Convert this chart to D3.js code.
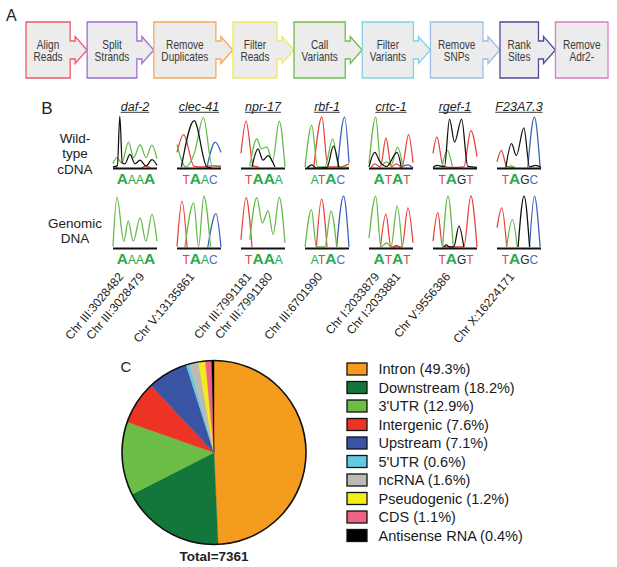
<!DOCTYPE html>
<html>
<head>
<meta charset="utf-8">
<script src="https://cdn.jsdelivr.net/npm/d3@7"></script>
<style>
  body { margin: 0; background: #fff; }
  svg { display: block; font-family: "Liberation Sans", Arial, Helvetica, sans-serif; }
</style>
</head>
<body>
<div id="chart"></div>
<script>
// ---- panel A : pipeline ----
var steps = [["Align", "Reads"], ["Split", "Strands"], ["Remove", "Duplicates"], ["Filter", "Reads"],
             ["Call", "Variants"], ["Filter", "Variants"], ["Remove", "SNPs"], ["Rank", "Sites"], ["Remove", "Adr2-"]];
var stepColors = ["#ef5b66", "#9f6fcf", "#f4aa5a", "#eeea66", "#6cbf4c", "#7fd3e6", "#9dbde6", "#4d4c9c", "#d77cc9"];

// ---- panel B : chromatograms ----
var genes = ["daf-2", "clec-41", "npr-17", "rbf-1", "crtc-1", "rgef-1", "F23A7.3"];
var calls = ["AAAA", "TAAC", "TAAA", "ATAC", "ATAT", "TAGT", "TAGC"];
var bigCalls = ["1001", "0100", "0110", "0010", "1010", "0100", "0100"];
var chrLabels = [["Chr III:3028482", "Chr III:3028479"], ["Chr V:13135861"], ["Chr III:7991181", "Chr III:7991180"],
                 ["Chr III:6701990"], ["Chr I:2033879", "Chr I:2033881"], ["Chr V:9556386"], ["Chr X:16224171"]];

// trace points per gene: [position across the 4 bases (0..1), relative signal (0..1)]
var cdnaTraces = [
  { A: [[0,0.08],[0.08,0.2],[0.2,0.1],[0.35,0.5],[0.47,0.2],[0.615,0.45],[0.75,0.2],[0.885,0.44],[1,0.18]],
    G: [[0,0.02],[0.1,0.05],[0.155,1.0],[0.21,0.1],[0.27,0.08],[0.385,0.26],[0.5,0.08],[0.615,0.15],[0.75,0.04],[0.885,0.16],[1,0.05]],
    T: [[0.65,0],[0.76,0.04],[0.85,0]],
    C: [[0,0.01],[0.05,0.03],[0.1,0]] },
  { T: [[0,0.3],[0.15,0.64],[0.39,0.03],[0.6,0.02],[0.75,0.04],[1,0.02]],
    G: [[0.1,0.02],[0.39,0.91],[0.68,0.02],[0.8,0]],
    A: [[0,0.45],[0.2,0.02],[0.4,0.3],[0.6,0.97],[0.8,0.04],[1,0.04]],
    C: [[0.68,0.01],[0.87,0.5],[1,0.3]] },
  { T: [[0,0.28],[0.115,0.9],[0.28,0.04],[0.4,0.02]],
    G: [[0.25,0.02],[0.385,0.37],[0.5,0.15],[0.615,0.24],[0.77,0.02]],
    A: [[0.2,0.03],[0.36,0.56],[0.46,0.37],[0.59,0.4],[0.715,0.12],[0.87,0.9],[1,0.02]] },
  { A: [[0,0.02],[0.154,0.82],[0.285,0.02],[0.45,0.02],[0.63,0.56],[0.77,0.02],[1,0.01]],
    T: [[0.2,0.01],[0.385,0.98],[0.52,0.02],[0.8,0.02],[0.92,0.05],[1,0.08]],
    G: [[0.05,0],[0.154,0.06],[0.25,0],[0.5,0.01],[0.646,0.42],[0.77,0.01]],
    C: [[0.74,0.01],[0.9,0.98],[1,0.1]] },
  { A: [[0,0.08],[0.154,0.98],[0.27,0.05],[0.4,0.12],[0.5,0.05],[0.65,0.4],[0.77,0.03]],
    G: [[0,0.02],[0.13,0.3],[0.25,0.12],[0.4,0.03],[0.638,0.3],[0.73,0.03]],
    T: [[0.05,0.01],[0.13,0.08],[0.26,0.02],[0.385,0.58],[0.51,0.02],[0.62,0.08],[0.75,0.02],[0.9,0.64],[1,0.1]],
    C: [[0.7,0],[0.88,0.06],[1,0]] },
  { T: [[0,0.28],[0.09,0.6],[0.23,0.04],[0.4,0.01],[0.7,0.02],[0.86,0.72],[1,0.22]],
    A: [[0.2,0.01],[0.325,0.34],[0.44,0.03]],
    G: [[0,0.01],[0.09,0.05],[0.26,0.02],[0.375,0.94],[0.49,0.5],[0.65,0.94],[0.79,0.03],[1,0.01]] },
  { T: [[0,0.12],[0.1,0.34],[0.22,0.03],[0.4,0.01]],
    G: [[0.2,0.01],[0.33,0.47],[0.44,0.24],[0.61,0.77],[0.74,0.02],[0.88,0.05],[1,0.01]],
    A: [[0.25,0.01],[0.32,0.04],[0.4,0.01]],
    C: [[0.7,0.01],[0.85,0.98],[0.98,0.02]] }
];
var gdnaTraces = [
  { A: [[0,0.03],[0.09,0.98],[0.246,0.13],[0.346,0.52],[0.46,0.13],[0.615,0.58],[0.75,0.13],[0.885,0.65],[1,0.13]] },
  { T: [[0,0.03],[0.114,0.9],[0.23,0.01]],
    A: [[0.18,0.01],[0.38,0.87],[0.49,0.03],[0.61,1.0],[0.76,0.02]],
    C: [[0.7,0.01],[0.886,0.66],[1,0.02]] },
  { T: [[0,0.16],[0.115,0.97],[0.25,0.02]],
    A: [[0.2,0.16],[0.36,0.97],[0.485,0.48],[0.615,0.72],[0.73,0.26],[0.87,0.98],[1,0.1]] },
  { A: [[0,0.02],[0.146,0.74],[0.26,0.02],[0.45,0.02],[0.592,0.71],[0.72,0.02]],
    T: [[0.26,0.02],[0.377,0.94],[0.5,0.02]],
    C: [[0.72,0.02],[0.877,1.0],[1,0.02]] },
  { A: [[0,0.19],[0.154,1.0],[0.27,0.02],[0.4,0.1],[0.5,0.02],[0.64,0.81],[0.75,0.02]],
    T: [[0.26,0.02],[0.385,0.65],[0.5,0.02],[0.75,0.02],[0.885,0.77],[1,0.1]],
    C: [[0.55,0.01],[0.62,0.05],[0.7,0.01]] },
  { T: [[0,0.13],[0.108,0.68],[0.22,0.02],[0.7,0.02],[0.86,1.0],[1,0.02]],
    A: [[0.22,0.02],[0.34,1.0],[0.46,0.02]],
    G: [[0.25,0.02],[0.3,0.06],[0.38,0.02],[0.47,0.02],[0.59,0.42],[0.7,0.02]] },
  { T: [[0,0.39],[0.11,0.77],[0.22,0.02]],
    A: [[0.22,0.02],[0.35,0.55],[0.46,0.02]],
    G: [[0.48,0.02],[0.615,1.0],[0.74,0.02]],
    C: [[0.74,0.02],[0.85,1.0],[0.98,0.02]] }
];
var traceColors = { A: "#62b946", T: "#e8403a", C: "#3e60b8", G: "#111111" };
var callColors = { A: "#2aa84a", T: "#e8403a", C: "#4a6cc0", G: "#222222" };

// ---- panel C : pie ----
var regions = ["Intron", "Downstream", "3'UTR", "Intergenic", "Upstream", "5'UTR", "ncRNA", "Pseudogenic", "CDS", "Antisense RNA"];
var regionPct = [49.3, 18.2, 12.9, 7.6, 7.1, 0.6, 1.6, 1.2, 1.1, 0.4];
var regionColors = ["#f59c1f", "#13763b", "#6cbd45", "#ec3324", "#3a54a5", "#63c8e0", "#bdb9b3", "#f3ec19", "#ef6480", "#000000"];
var total = 7361;

var width = 617, height = 567;
var svg = d3.select("#chart").append("svg")
    .attr("width", width)
    .attr("height", height);

// ================= A =================
svg.append("text").attr("x", 6).attr("y", 21).attr("font-size", 16).attr("fill", "#222").text("A");

var boxTop = 22, boxBottom = 78, boxMid = 50;
var squeeze = 0.84;   // box text is condensed
var measure = svg.append("text").attr("font-size", 12);
var boxW = steps.map(function(s) {
    return d3.max(s, function(t) { measure.text(t); return measure.node().getComputedTextLength(); }) * squeeze + 15;
});
measure.remove();
var gap = (608 - 26 - d3.sum(boxW)) / (steps.length - 1);
var boxX = [], cur = 26;
boxW.forEach(function(w) { boxX.push(cur); cur += w + gap; });

function boxPath(i) {
    var l = boxX[i], r = l + boxW[i];
    var p = d3.path();
    p.moveTo(l, boxTop);
    p.lineTo(r, boxTop);
    if (i < steps.length - 1) {
        var tip = boxX[i + 1];
        p.lineTo(r, boxMid - 9);
        p.lineTo(r + 5, boxMid - 9);
        p.lineTo(r + 5, boxMid - 13.5);
        p.lineTo(tip, boxMid);
        p.lineTo(r + 5, boxMid + 13.5);
        p.lineTo(r + 5, boxMid + 9);
        p.lineTo(r, boxMid + 9);
    }
    p.lineTo(r, boxBottom);
    p.lineTo(l, boxBottom);
    p.closePath();
    return p.toString();
}

var stepG = svg.append("g").selectAll("g")
    .data(steps)
    .enter()
    .append("g");

stepG.append("path")
    .attr("d", function(d, i) { return boxPath(i); })
    .attr("fill", "#ececec")
    .attr("stroke", function(d, i) { return stepColors[i]; })
    .attr("stroke-width", 1.3)
    .attr("stroke-linejoin", "miter");

stepG.each(function(d, i) {
    var cx = boxX[i] + boxW[i] / 2;
    d.forEach(function(t, k) {
        d3.select(this).append("g")
            .attr("transform", "translate(" + cx + "," + (48.5 + k * 12.8) + ") scale(" + squeeze + ",1)")
            .append("text")
            .attr("text-anchor", "middle")
            .attr("font-size", 12)
            .attr("fill", "#3a3a3a")
            .text(t);
    }, this);
});

// ================= B =================
svg.append("text").attr("x", 47).attr("y", 114).attr("text-anchor", "middle")
    .attr("font-size", 17).attr("fill", "#222").text("B");

[["Wild-", 142.5], ["type", 158], ["cDNA", 173.5], ["Genomic", 228], ["DNA", 243]].forEach(function(r) {
    svg.append("text").attr("x", 75).attr("y", r[1]).attr("text-anchor", "middle")
        .attr("font-size", 13.5).attr("fill", "#222").text(r[0]);
});

var geneX = d3.scalePoint().domain(genes).range([135, 519]);
var panelHalf = 22, traceH = 52;

var geneText = svg.append("g").selectAll("text")
    .data(genes)
    .enter()
    .append("text")
    .attr("x", function(g) { return geneX(g); })
    .attr("y", 110.5)
    .attr("text-anchor", "middle")
    .attr("font-size", 12.5)
    .attr("font-style", "italic")
    .attr("fill", "#222")
    .text(function(g) { return g; });

geneText.each(function(g) {
    var w = this.getComputedTextLength();
    svg.append("line")
        .attr("x1", geneX(g) - w / 2).attr("x2", geneX(g) + w / 2)
        .attr("y1", 112.3).attr("y2", 112.3)
        .attr("stroke", "#222").attr("stroke-width", 0.9);
});

function drawRow(traces, base, letterY) {
    genes.forEach(function(g, i) {
        var cx = geneX(g);
        var x = d3.scaleLinear().domain([0, 1]).range([cx - panelHalf, cx + panelHalf]);
        var y = d3.scaleLinear().domain([0, 1]).range([base, base - traceH]);
        var line = d3.line()
            .x(function(d) { return x(d[0]); })
            .y(function(d) { return y(d[1]); })
            .curve(d3.curveMonotoneX);
        ["C", "T", "A", "G"].forEach(function(b) {
            if (!traces[i][b]) return;
            svg.append("path")
                .attr("d", line(traces[i][b]))
                .attr("fill", "none")
                .attr("stroke", traceColors[b])
                .attr("stroke-width", 1.25);
        });
        svg.append("line")
            .attr("x1", x(0)).attr("x2", x(1))
            .attr("y1", base + 0.5).attr("y2", base + 0.5)
            .attr("stroke", "#111").attr("stroke-width", 2);

        var t = svg.append("text")
            .attr("x", cx + 1)
            .attr("y", letterY)
            .attr("text-anchor", "middle");
        calls[i].split("").forEach(function(c, k) {
            var big = bigCalls[i][k] === "1";
            t.append("tspan")
                .attr("font-size", big ? 15.5 : 12)
                .attr("font-weight", big ? "bold" : "normal")
                .attr("fill", callColors[c])
                .text(c);
        });
    });
}
drawRow(cdnaTraces, 168, 183.5);
drawRow(gdnaTraces, 248, 263.5);

// rotated coordinate labels
chrLabels.forEach(function(group, i) {
    var cx = geneX(genes[i]);
    var offs = group.length === 2 ? [-11, 10] : [-4];
    group.forEach(function(lbl, k) {
        var ax = cx + offs[k], ay = 277;
        svg.append("text")
            .attr("transform", "translate(" + ax + "," + ay + ") rotate(-50)")
            .attr("text-anchor", "end")
            .attr("font-size", 12)
            .attr("fill", "#222")
            .text(lbl);
    });
});

// ================= C =================
svg.append("text").attr("x", 126).attr("y", 372).attr("text-anchor", "middle")
    .attr("font-size", 15).attr("fill", "#222").text("C");

var pieCx = 214, pieCy = 452.5, pieR = 92;
var pie = d3.pie().sort(null).value(function(d) { return d; });
var arc = d3.arc().innerRadius(0).outerRadius(pieR);
var pieG = svg.append("g").attr("transform", "translate(" + pieCx + "," + pieCy + ")");

pieG.selectAll("path")
    .data(pie(regionPct))
    .enter()
    .append("path")
    .attr("d", arc)
    .attr("fill", function(d, i) { return regionColors[i]; })
    .attr("stroke", function(d, i) { return regionColors[i]; })
    .attr("stroke-width", 0.4);

pieG.append("circle")
    .attr("r", pieR)
    .attr("fill", "none")
    .attr("stroke", "#111")
    .attr("stroke-width", 1.6);

svg.append("text")
    .attr("x", pieCx).attr("y", 561)
    .attr("text-anchor", "middle")
    .attr("font-size", 13.5)
    .attr("font-weight", "bold")
    .attr("fill", "#222")
    .text("Total=" + total);

var legendY = d3.scalePoint().domain(regions).range([369, 535.5]);
var legend = svg.append("g").selectAll("g")
    .data(regions)
    .enter()
    .append("g")
    .attr("transform", function(d) { return "translate(0," + legendY(d) + ")"; });

legend.append("rect")
    .attr("x", 347).attr("y", -6)
    .attr("width", 20).attr("height", 12)
    .attr("fill", function(d, i) { return regionColors[i]; })
    .attr("stroke", "#111")
    .attr("stroke-width", 1.3);

legend.append("text")
    .attr("x", 378.5)
    .attr("y", 0)
    .attr("dy", "0.36em")
    .attr("font-size", 14.5)
    .attr("fill", "#1a1a1a")
    .text(function(d, i) { return d + " (" + regionPct[i] + "%)"; });
</script>
</body>
</html>
